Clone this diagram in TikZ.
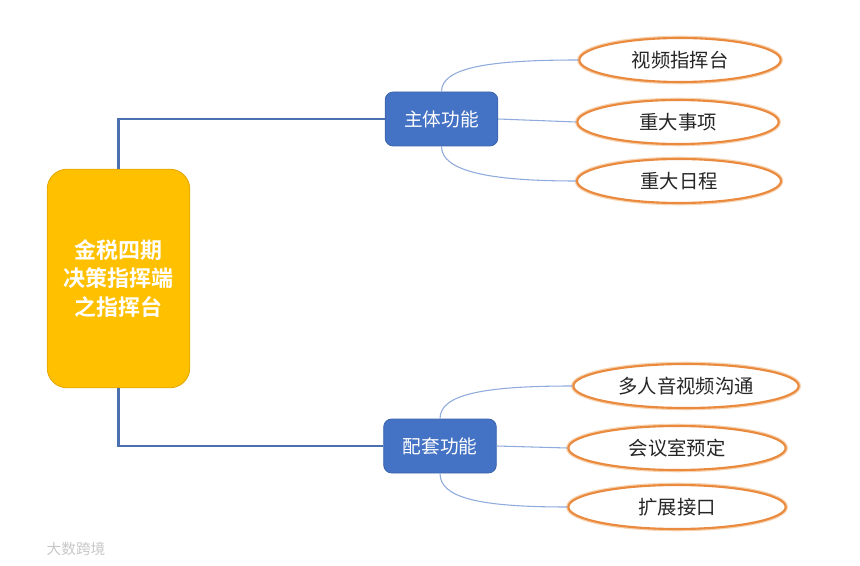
\documentclass[tikz,border=0pt]{standalone}
\usepackage{fontspec}
\newfontfamily\cjk{Noto Sans CJK SC}[BoldFont=* Bold]
\usetikzlibrary{shapes.geometric}
\definecolor{myyellow}{HTML}{FFC000}
\definecolor{myyellowd}{HTML}{E3A600}
\definecolor{myblue}{HTML}{4472C4}
\definecolor{mybluedark}{HTML}{3C64AC}
\definecolor{myline}{HTML}{4A70B0}
\definecolor{mycurve}{HTML}{8FAADC}
\definecolor{myorange}{HTML}{E98A3E}
\definecolor{myglow}{HTML}{F8D3B0}
\definecolor{mytext}{HTML}{262626}
\tikzset{
  rootbox/.style={draw=myyellowd, line width=0.6pt, fill=myyellow, rounded corners=15pt,
    minimum width=107pt, minimum height=164pt, text=white, align=center,
    font=\cjk\bfseries\fontsize{16.5pt}{21.5pt}\selectfont},
  catbox/.style={draw=mybluedark, line width=0.6pt, fill=myblue, rounded corners=6pt,
    minimum width=84.5pt, minimum height=40.5pt, text=white,
    font=\cjk\fontsize{14pt}{16pt}\selectfont},
  leaf/.style={ellipse, draw=myorange, line width=1.6pt, fill=white,
    preaction={draw=myglow, line width=3.4pt},
    minimum height=33pt, inner sep=0pt, text=mytext,
    font=\cjk\fontsize{14.5pt}{16pt}\selectfont},
  trunk/.style={draw=myline, line width=1.6pt},
  twig/.style={draw=mycurve, line width=0.8pt},
}
\begin{document}
\begin{tikzpicture}[x=0.75pt, y=-0.75pt]
\useasboundingbox (0,0) rectangle (860,566);
\node[rootbox] (main) at (118.5,278.5) {金税四期\\决策指挥端\\之指挥台};
\node[catbox] (b1) at (441.5,119) {主体功能};
\node[catbox] (b2) at (440,446) {配套功能};
\node[leaf, minimum width=151pt] (e1) at (680,60) {视频指挥台};
\node[leaf, minimum width=151pt] (e2) at (678,122) {重大事项};
\node[leaf, minimum width=153pt] (e3) at (679,181) {重大日程};
\node[leaf, minimum width=169pt] (e4) at (686,386) {多人音视频沟通};
\node[leaf, minimum width=163pt] (e5) at (677,448) {会议室预定};
\node[leaf, minimum width=163pt] (e6) at (677,507) {扩展接口};
\draw[trunk] (main.north) |- (b1.west);
\draw[trunk] (main.south) |- (b2.west);
\draw[twig] (b1.north) .. controls +(0,-24) and +(-90,0) .. (e1.west);
\draw[twig] (b1.east) -- (e2.west);
\draw[twig] (b1.south) .. controls +(0,24) and +(-90,0) .. (e3.west);
\draw[twig] (b2.north) .. controls +(0,-24) and +(-90,0) .. (e4.west);
\draw[twig] (b2.east) -- (e5.west);
\draw[twig] (b2.south) .. controls +(0,24) and +(-90,0) .. (e6.west);
\node[text=black!22, font=\cjk\fontsize{11pt}{12pt}\selectfont] (wm) at (76,549) {大数跨境};
\end{tikzpicture}
\end{document}
